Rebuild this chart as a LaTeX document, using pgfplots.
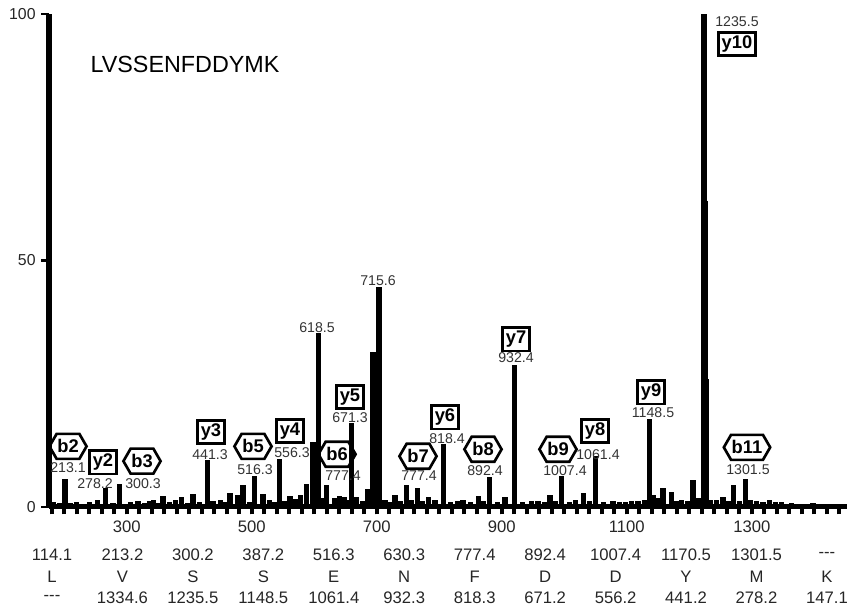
\documentclass[border=0pt]{standalone}
\usepackage{pgfplots}
\pgfplotsset{compat=1.18}
\usepackage{fontspec}
\setmainfont{Liberation Sans}
\usetikzlibrary{shapes.symbols}

\begin{document}
\begin{tikzpicture}[
  ybox/.style={draw, line width=1.5pt, font=\fontsize{11}{11}\selectfont\bfseries, inner xsep=2pt, inner ysep=0pt, minimum height=14pt},
  bhex/.style={signal, signal to=west and east, signal pointer angle=120, draw, line width=1.6pt, font=\fontsize{11}{11}\selectfont\bfseries, inner xsep=0.4pt, inner ysep=0pt, minimum height=15pt},
  mz/.style={font=\fontsize{8.5}{8.5}\selectfont, text=black!80, inner sep=0pt},
  tab/.style={font=\fontsize{10}{10}\selectfont, text=black!85, inner sep=0pt},
]
\begin{axis}[
  name=ax,
  scale only axis,
  width=478.8pt, height=295.8pt,
  xmin=187.5, xmax=1464.3, ymin=0, ymax=100,
  axis x line*=bottom, axis y line*=left,
  x axis line style={line width=3pt},
  y axis line style={line width=3.2pt},
  xtick={312,512,712,912,1112,1312},
  xticklabels={300,500,700,900,1100,1300},
  minor xtick={192,212,...,1452},
  ytick={0,50,100}, yticklabels={0,50,100},
  tick align=outside,
  major tick length=4.5pt, minor tick length=4.5pt,
  xtick style={line width=2.4pt, black},
  every minor tick/.style={line width=2.4pt, black},
  ytick style={line width=1.5pt, black},
  xticklabel style={font=\fontsize{10}{12}\selectfont, text=black!85},
  yticklabel style={font=\fontsize{9.5}{12}\selectfont, text=black!85},
  /pgf/number format/assume math mode=true,
  clip=false,
]
\addplot[ycomb, black, line width=3.2pt, mark=none] table[x=mz, y=int] {
mz int
195 1.0
205 0.8
213.1 5.7
222 0.9
232 1.1
245 0.7
252 1.0
265 1.5
278.2 3.8
290 0.9
300.3 4.7
318 1.1
330 1.2
340 0.8
348 1.3
355 1.5
362 0.9
370 2.2
380 1.0
390 1.4
400 2.0
410 0.8
418 2.6
428 1.0
441.3 9.5
450 1.2
462 1.5
470 1.0
477 2.8
489 2.5
498 4.4
508 1.1
516.3 6.3
530 2.6
540 1.4
548 1.0
556.3 9.8
565 1.3
573 2.2
582 1.6
590 2.5
600 4.6
610 13.2
618.5 35.2
625 1.8
631 4.4
645 1.8
652 2.2
660 2.0
665 1.5
671.3 17.0
680 2.0
690 1.2
698 3.6
706 31.4
710 31.4
715.6 44.7
725 1.5
733 1.0
741 2.4
750 1.3
760 4.4
768 1.5
777.4 3.8
785 1.2
795 2.0
805 1.4
818.4 12.8
830 1.0
842 1.2
850 1.5
862 1.1
875 2.2
882 1.3
892.4 6.1
905 1.0
917 2.0
932.4 28.8
945 1.0
960 1.2
970 1.3
980 1.0
989 2.4
998 1.2
1007.4 6.3
1020 1.0
1030 1.4
1043 2.8
1052 1.3
1061.4 10.3
1075 1.0
1090 1.2
1100 1.1
1110 1.0
1120 1.2
1130 1.2
1140 1.5
1148.5 17.8
1155 2.5
1162 1.8
1170 3.8
1183 3.0
1192 1.3
1200 1.5
1210 1.2
1218 5.5
1226 1.8
1235.5 100
1237 62
1238.5 26
1246 1.4
1255 1.5
1266 2.0
1275 1.3
1283 4.4
1292 1.2
1301.5 5.7
1310 1.4
1320 1.2
1330 1.0
1340 1.5
1350 1.1
1360 1.0
1375 0.8
1390 0.7
1410 0.8
1430 0.6
1450 0.6
};
\node[bhex] at (axis cs:217.9,12.3) {b2};
\node[mz] at (axis cs:217.9,7.9) {213.1};
\node[ybox] at (axis cs:273.9,9.1) {y2};
\node[mz] at (axis cs:261.1,4.7) {278.2};
\node[bhex] at (axis cs:336.3,9.3) {b3};
\node[mz] at (axis cs:337.9,4.7) {300.3};
\node[ybox] at (axis cs:446.7,15.2) {y3};
\node[mz] at (axis cs:445.1,10.7) {441.3};
\node[bhex] at (axis cs:513.9,12.3) {b5};
\node[mz] at (axis cs:517.1,7.5) {516.3};
\node[ybox] at (axis cs:573.1,15.4) {y4};
\node[mz] at (axis cs:576.3,11.1) {556.3};
\node[bhex] at (axis cs:648.3,10.7) {b6};
\node[mz] at (axis cs:657.9,6.3) {777.4};
\node[ybox] at (axis cs:669.1,22.3) {y5};
\node[mz] at (axis cs:669.1,18.2) {671.3};
\node[bhex] at (axis cs:777.9,10.3) {b7};
\node[mz] at (axis cs:779.5,6.3) {777.4};
\node[ybox] at (axis cs:821.1,18.2) {y6};
\node[mz] at (axis cs:824.3,13.8) {818.4};
\node[bhex] at (axis cs:881.9,11.7) {b8};
\node[mz] at (axis cs:885.1,7.3) {892.4};
\node[ybox] at (axis cs:934.7,34.0) {y7};
\node[mz] at (axis cs:934.7,30.4) {932.4};
\node[bhex] at (axis cs:1001.9,11.7) {b9};
\node[mz] at (axis cs:1013.1,7.3) {1007.4};
\node[ybox] at (axis cs:1061.1,15.4) {y8};
\node[mz] at (axis cs:1065.9,10.7) {1061.4};
\node[ybox] at (axis cs:1150.7,23.3) {y9};
\node[mz] at (axis cs:1153.9,19.2) {1148.5};
\node[bhex] at (axis cs:1304.3,12.1) {b11};
\node[mz] at (axis cs:1305.9,7.5) {1301.5};
\node[mz] at (axis cs:616.3,36.4) {618.5};
\node[mz] at (axis cs:713.9,45.9) {715.6};
\node[mz] at (axis cs:1288.3,98.4) {1235.5};
\node[ybox] at (axis cs:1288.3,93.9) {y10};
\node[font=\fontsize{14}{14}\selectfont] at (axis cs:405.1,89.7) {LVSSENFDDYMK};
\end{axis}
\foreach \b/\r/\y [count=\i from 0] in {114.1/L/{-}{-}{-}, 213.2/V/1334.6, 300.2/S/1235.5, 387.2/S/1148.5, 516.3/E/1061.4, 630.3/N/932.3, 777.4/F/818.3, 892.4/D/671.2, 1007.4/D/556.2, 1170.5/Y/441.2, 1301.5/M/278.2, {-}{-}{-}/K/147.1} {
  \node[tab] at ([xshift={1.8pt+\i*42.27pt}, yshift=-28.8pt]ax.south west) {\b};
  \node[tab] at ([xshift={1.8pt+\i*42.27pt}, yshift=-42pt]ax.south west) {\r};
  \node[tab] at ([xshift={1.8pt+\i*42.27pt}, yshift=-54.6pt]ax.south west) {\y};
}
\pgfresetboundingbox
\path ([shift={(-29.4pt,-62.4pt)}]ax.south west) rectangle ([shift={(3.6pt,8.4pt)}]ax.north east);
\end{tikzpicture}
\end{document}
